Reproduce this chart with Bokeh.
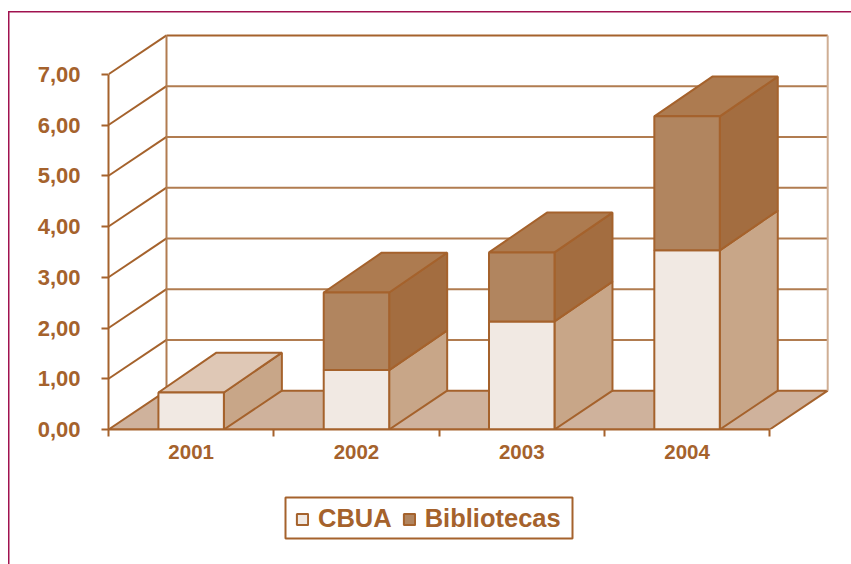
from bokeh.plotting import figure
from bokeh.layouts import column
from bokeh.embed import file_html
from bokeh.resources import INLINE
from bokeh.models import (LinearAxis, FixedTicker, Range1d, Legend, LegendItem, Styles)

years = ["2001", "2002", "2003", "2004"]
cbua = [0.73, 1.17, 2.13, 3.53]
bibliotecas = [0.00, 1.53, 1.36, 2.64]
y_ticks = [0, 1, 2, 3, 4, 5, 6, 7]
y_labels = ["0,00", "1,00", "2,00", "3,00", "4,00", "5,00", "6,00", "7,00"]

INK = "#a5622c"
WALL = "#b17c50"
FONT = "Liberation Sans"
PX_X = 165.3   # px per category
PX_Y = 50.75   # px per value unit
DX = 58 / PX_X   # depth offset, category units
DY = 38.8 / PX_Y   # depth offset of the walls, value units
BAR_DY = 39.8 / PX_Y   # depth offset of the bar tops, value units
BAR = 0.198
n = len(years)
top = y_ticks[-1]
FRAME = "linear-gradient(#a0124f,#a0124f)"
FRONT_A, SIDE_A, CAP_A = "#f1e9e3", "#c8a688", "#dfc8b6"
FRONT_B, SIDE_B, CAP_B = "#b1855f", "#a36d40", "#ad7b50"

p = figure(width=851, height=488, output_backend="svg", toolbar_location=None,
           x_range=Range1d(0, 743 / PX_X), y_range=Range1d(0, 429 / PX_Y),
           x_axis_type=None, y_axis_type=None,
           min_border_left=108, min_border_right=0, min_border_top=0, min_border_bottom=59)
p.grid.visible = False
p.outline_line_color = None
p.background_fill_color = None
p.border_fill_color = None

# floor
p.patch([0, n, n + DX, DX], [0, 0, DY, DY], fill_color="#cfb29c", line_color=INK, line_width=2)
# back wall and side wall gridlines
for t in y_ticks[1:]:
    p.line([0, DX], [t, t + DY], line_color=INK, line_width=2)
    p.line([DX, n + DX], [t + DY, t + DY], line_color=INK if t == top else WALL, line_width=2)
p.line([DX, DX], [DY, top + DY], line_color=WALL, line_width=2)
p.line([n + DX, n + DX], [DY, top + DY], line_color="#cfae94", line_width=2)

def box(i, y0, y1, front, side, cap):
    x0, x1 = i + 0.5 - BAR, i + 0.5 + BAR
    d0 = DY if y0 == 0 else BAR_DY
    p.patch([x1, x1 + DX, x1 + DX, x1], [y0, y0 + d0, y1 + BAR_DY, y1], fill_color=side, line_color=INK, line_width=2)
    if cap:
        p.patch([x0, x1, x1 + DX, x0 + DX], [y1, y1, y1 + BAR_DY, y1 + BAR_DY], fill_color=cap, line_color=INK, line_width=2)
    p.patch([x0, x1, x1, x0], [y0, y0, y1, y1], fill_color=front, line_color=INK, line_width=2)

for i in range(n):
    has_b = bibliotecas[i] > 0
    box(i, 0, cbua[i], FRONT_A, SIDE_A, None if has_b else CAP_A)
    if has_b:
        box(i, cbua[i], cbua[i] + bibliotecas[i], FRONT_B, SIDE_B, CAP_B)

# axes
yaxis = LinearAxis(ticker=FixedTicker(ticks=y_ticks), bounds=(0, top),
                   major_label_overrides=dict(zip(y_ticks, y_labels)),
                   major_tick_out=7, major_tick_in=0, minor_tick_out=0, minor_tick_in=0,
                   major_label_standoff=21, axis_line_color=INK, axis_line_width=2,
                   major_tick_line_color=INK, major_tick_line_width=2,
                   major_label_text_color=INK, major_label_text_font=FONT,
                   major_label_text_font_style="bold", major_label_text_font_size="22px")
p.add_layout(yaxis, "left")
centers = [i + 0.5 for i in range(n)]
xaxis = LinearAxis(ticker=FixedTicker(ticks=centers, minor_ticks=list(range(n + 1))), bounds=(0, n),
                   major_label_overrides=dict(zip(centers, years)),
                   major_tick_out=0, major_tick_in=0, minor_tick_out=7, minor_tick_in=0,
                   major_label_standoff=8, axis_line_color=INK, axis_line_width=2,
                   minor_tick_line_color=INK, minor_tick_line_width=2,
                   major_label_text_color=INK, major_label_text_font=FONT,
                   major_label_text_font_style="bold", major_label_text_font_size="20.5px")
p.add_layout(xaxis, "below")

# legend strip: its ranges are page pixels
q = figure(width=851, height=76, output_backend="svg", toolbar_location=None,
           x_range=Range1d(108, 851), y_range=Range1d(564, 488), x_axis_type=None, y_axis_type=None,
           min_border=0)
q.grid.visible = False
q.outline_line_color = None
q.background_fill_color = None
q.border_fill_color = None
q.quad(left=[285], right=[572], top=[497], bottom=[538], fill_color="white", line_color=INK, line_width=2)
r_a = q.patch([0, 1, 1], [0, 0, 1], fill_color=FRONT_A, line_color=INK, line_width=2)
r_b = q.patch([0, 1, 1], [0, 0, 1], fill_color=FRONT_B, line_color=INK, line_width=2)
legend = Legend(items=[LegendItem(label="CBUA", renderers=[r_a]), LegendItem(label="Bibliotecas", renderers=[r_b])],
                orientation="horizontal", location=(187, 31),
                border_line_color=None, background_fill_alpha=0,
                label_text_color=INK, label_text_font=FONT, label_text_font_style="bold",
                label_text_font_size="25.5px", glyph_width=14, glyph_height=14,
                padding=0, margin=0, spacing=10, label_standoff=9)
q.add_layout(legend, "center")

page = column(p, q, spacing=0)
page.styles = Styles(background_image=f"{FRAME},{FRAME}",
                     background_size="843px 1.5px,1.5px 553px",
                     background_position="8px 11px,8px 11px",
                     background_repeat="no-repeat")

open("out.html", "w").write(file_html(page, INLINE))
